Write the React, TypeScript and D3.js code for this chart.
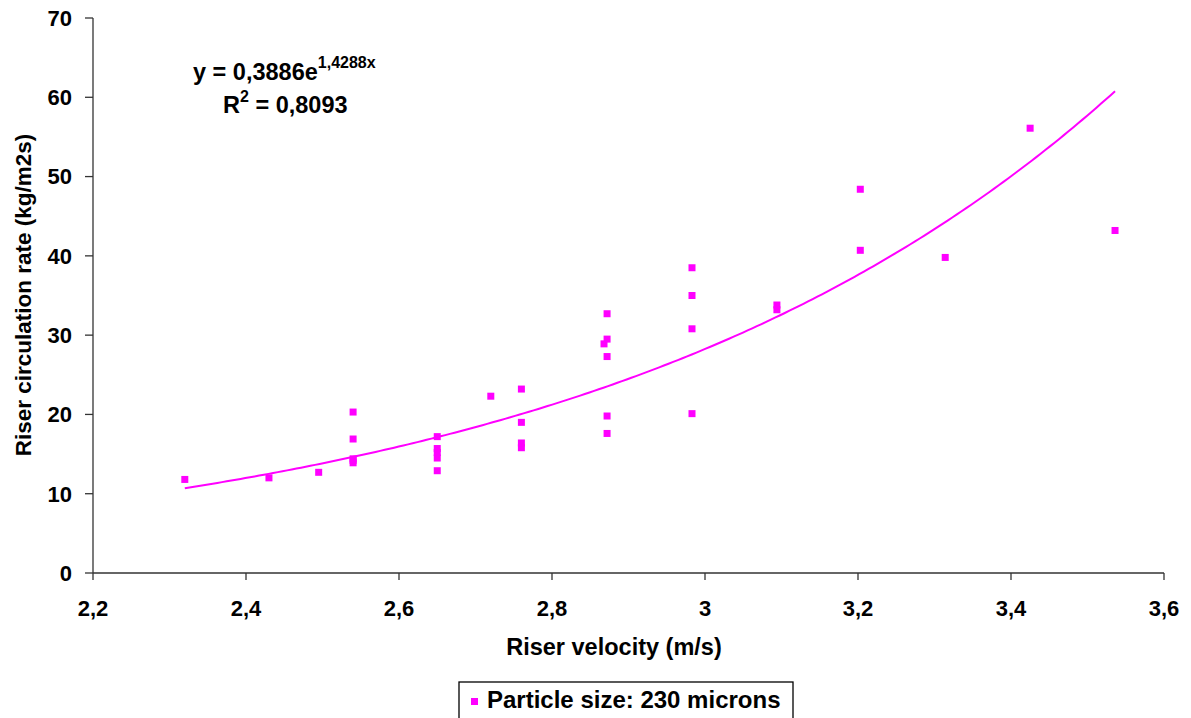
import React from "react";
import * as d3 from "d3";

const velocities = [
  2.32, 2.43, 2.495,
  2.54, 2.54, 2.54, 2.54, 2.54,
  2.65, 2.65, 2.65, 2.65, 2.65,
  2.72,
  2.76, 2.76, 2.76, 2.76,
  2.872, 2.872, 2.868, 2.872, 2.872, 2.872,
  2.983, 2.983, 2.983, 2.983,
  3.094, 3.094,
  3.203, 3.203,
  3.314, 3.425, 3.536,
];
const circulation = [
  11.8, 12.0, 12.7,
  20.3, 16.9, 14.4, 13.9, 14.2,
  17.2, 15.7, 15.2, 14.5, 12.9,
  22.3,
  23.2, 19.0, 16.4, 15.8,
  32.7, 29.5, 28.9, 27.3, 19.8, 17.6,
  38.5, 35.0, 30.8, 20.1,
  33.8, 33.2,
  48.4, 40.7,
  39.8, 56.1, 43.2,
];
const xTicks = [2.2, 2.4, 2.6, 2.8, 3.0, 3.2, 3.4, 3.6];
const yTicks = [0, 10, 20, 30, 40, 50, 60, 70];
const trendA = 0.3886;
const trendB = 1.4288;
const seriesName = "Particle size: 230 microns";

const W = 1191;
const H = 718;
const left = 93, right = 1164, top = 18, bottom = 573;
const MAGENTA = "#FF00FF";
const AXIS = "#333";
const FONT = "'Liberation Sans', Arial, sans-serif";

const fmt = (v: number) => {
  const s = d3.format("~g")(+v.toFixed(2));
  return s.replace(".", ",");
};

export default function App() {
  const x = d3.scaleLinear().domain([2.2, 3.6]).range([left, right]);
  const y = d3.scaleLinear().domain([0, 70]).range([bottom, top]);

  const xMin = d3.min(velocities) as number;
  const xMax = d3.max(velocities) as number;
  const trendPts = d3.range(0, 201).map((i) => {
    const xv = xMin + ((xMax - xMin) * i) / 200;
    return [xv, trendA * Math.exp(trendB * xv)] as [number, number];
  });
  const line = d3
    .line<[number, number]>()
    .x((d) => x(d[0]))
    .y((d) => y(d[1]));

  const pts = velocities.map((v, i) => ({ v, c: circulation[i] }));
  const ms = 7;

  return (
    <svg
      width={W}
      height={H}
      style={{ position: "absolute", left: 0, top: 0, display: "block", background: "#fff" }}
      fontFamily={FONT}
    >
      {/* axes */}
      <line x1={left} x2={left} y1={top} y2={bottom} stroke={AXIS} strokeWidth={1.3} />
      <line x1={left} x2={right} y1={bottom} y2={bottom} stroke={AXIS} strokeWidth={1.3} />
      {yTicks.map((t) => (
        <g key={"y" + t}>
          <line x1={left - 8} x2={left} y1={y(t)} y2={y(t)} stroke={AXIS} strokeWidth={1.3} />
          <text
            x={left - 21}
            y={y(t)}
            dy="0.36em"
            textAnchor="end"
            fontSize={22}
            fontWeight="bold"
            fill="#000"
          >
            {fmt(t)}
          </text>
        </g>
      ))}
      {xTicks.map((t) => (
        <g key={"x" + t}>
          <line x1={x(t)} x2={x(t)} y1={bottom} y2={bottom + 7} stroke={AXIS} strokeWidth={1.3} />
          <text
            x={x(t)}
            y={bottom + 43}
            textAnchor="middle"
            fontSize={22}
            fontWeight="bold"
            fill="#000"
          >
            {fmt(t)}
          </text>
        </g>
      ))}

      {/* axis titles */}
      <text
        x={614}
        y={655}
        textAnchor="middle"
        fontSize={23.5}
        fontWeight="bold"
        fill="#000"
      >
        Riser velocity (m/s)
      </text>
      <text
        transform={`translate(31, ${295}) rotate(-90)`}
        textAnchor="middle"
        fontSize={22.5}
        fontWeight="bold"
        fill="#000"
      >
        Riser circulation rate (kg/m2s)
      </text>

      {/* trend line */}
      <path d={line(trendPts) || ""} fill="none" stroke={MAGENTA} strokeWidth={2} />

      {/* points */}
      {pts.map((p, i) => (
        <rect
          key={i}
          x={x(p.v) - ms / 2}
          y={y(p.c) - ms / 2}
          width={ms}
          height={ms}
          fill={MAGENTA}
        />
      ))}

      {/* equation */}
      <text x={193} y={80} fontSize={23.5} fontWeight="bold" fill="#000">
        y = 0,3886e
        <tspan dy={-12} fontSize={16}>
          1,4288x
        </tspan>
      </text>
      <text x={223} y={113} fontSize={23.5} fontWeight="bold" fill="#000">
        R
        <tspan dy={-11} fontSize={16}>2</tspan>
        <tspan dy={11}> = 0,8093</tspan>
      </text>

      {/* legend */}
      <rect x={459} y={682} width={334} height={50} fill="#fff" stroke="#000" strokeWidth={1.3} />
      <rect x={471} y={698} width={7} height={7} fill={MAGENTA} />
      <text x={487} y={708} fontSize={24} fontWeight="bold" fill="#000">
        {seriesName}
      </text>
    </svg>
  );
}
